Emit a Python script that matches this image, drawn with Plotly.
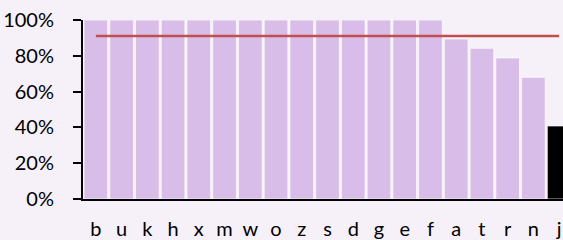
import plotly.graph_objects as go

categories = ["b", "u", "k", "h", "x", "m", "w", "o", "z", "s", "d", "g", "e", "f", "a", "t", "r", "n", "j"]
values = [1.0, 1.0, 1.0, 1.0, 1.0, 1.0, 1.0, 1.0, 1.0, 1.0, 1.0, 1.0, 1.0, 1.0, 0.894, 0.842, 0.788, 0.68, 0.408]
target = 0.911
bar_colors = ["#D8BDE8"] * 18 + ["#000000"]
y_ticks = [0, 0.2, 0.4, 0.6, 0.8, 1.0]
y_tick_labels = ["0%", "20%", "40%", "60%", "80%", "100%"]

fig = go.Figure()
fig.add_trace(go.Bar(
    x=categories, y=values,
    marker=dict(color=bar_colors, line=dict(color="rgba(255,255,255,0.7)", width=1)),
))
fig.add_trace(go.Scatter(
    x=categories, y=[target] * len(categories), mode="lines",
    line=dict(color="#C0504D", width=2.5),
))

fig.update_layout(
    width=563, height=240,
    margin=dict(l=83, r=0, t=20, b=41),
    paper_bgcolor="#F6F1F8", plot_bgcolor="#F6F1F8",
    showlegend=False, bargap=0.08,
    font=dict(family="Lato, Open Sans, sans-serif", size=20, color="#000000"),
)
fig.update_xaxes(
    range=[-0.5, 18.15], showgrid=False, showline=True, linecolor="#000000", linewidth=2,
    ticks="", ticklabelstandoff=11, zeroline=False, automargin=False,
)
fig.update_yaxes(
    range=[0, 1.0], tickvals=y_ticks, ticktext=y_tick_labels, showgrid=False,
    showline=True, linecolor="#000000", linewidth=2, ticks="outside", ticklen=8,
    tickcolor="#000000", tickwidth=2, ticklabelstandoff=15, zeroline=False, automargin=False,
)

fig.write_html(
    "out.html",
    config={"displayModeBar": False},
    post_script="document.body.style.margin='0';document.body.style.overflow='hidden';document.body.style.background='#F6F1F8';",
)
